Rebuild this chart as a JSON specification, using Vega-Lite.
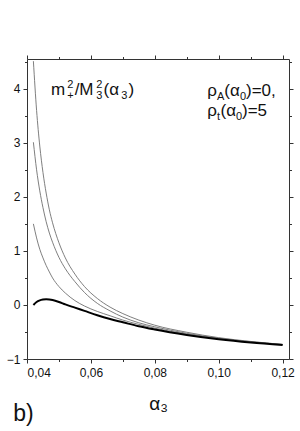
{
  "$schema": "https://vega.github.io/schema/vega-lite/v6.json",
  "width": 262,
  "height": 300,
  "autosize": "none",
  "padding": {"left": 27, "top": 59, "right": 11, "bottom": 72},
  "background": "white",
  "config": {
    "view": {"stroke": null},
    "font": "Liberation Sans",
    "axis": {"domainColor": "#333", "tickColor": "#333", "labelColor": "#111", "grid": false, "labelFont": "Liberation Sans", "labelFontSize": 12, "titleFont": "Liberation Sans", "titleFontWeight": "normal", "titleColor": "#111", "domainWidth": 1, "tickWidth": 1}
  },
  "datasets": {
    "curves": [
      {"s": "c1", "a": 0.042, "v": 4.51}, {"s": "c1", "a": 0.043, "v": 3.6}, {"s": "c1", "a": 0.044, "v": 2.94}, {"s": "c1", "a": 0.045, "v": 2.45}, {"s": "c1", "a": 0.046, "v": 2.07}, {"s": "c1", "a": 0.047, "v": 1.76}, {"s": "c1", "a": 0.048, "v": 1.52}, {"s": "c1", "a": 0.05, "v": 1.15}, {"s": "c1", "a": 0.052, "v": 0.87}, {"s": "c1", "a": 0.055, "v": 0.57}, {"s": "c1", "a": 0.058, "v": 0.34}, {"s": "c1", "a": 0.062, "v": 0.12}, {"s": "c1", "a": 0.066, "v": -0.04}, {"s": "c1", "a": 0.07, "v": -0.16}, {"s": "c1", "a": 0.075, "v": -0.28}, {"s": "c1", "a": 0.08, "v": -0.375}, {"s": "c1", "a": 0.09, "v": -0.505}, {"s": "c1", "a": 0.1, "v": -0.605}, {"s": "c1", "a": 0.11, "v": -0.675}, {"s": "c1", "a": 0.12, "v": -0.73},
      {"s": "c2", "a": 0.042, "v": 3.01}, {"s": "c2", "a": 0.043, "v": 2.5}, {"s": "c2", "a": 0.044, "v": 2.11}, {"s": "c2", "a": 0.045, "v": 1.8}, {"s": "c2", "a": 0.046, "v": 1.54}, {"s": "c2", "a": 0.047, "v": 1.33}, {"s": "c2", "a": 0.048, "v": 1.16}, {"s": "c2", "a": 0.05, "v": 0.88}, {"s": "c2", "a": 0.052, "v": 0.67}, {"s": "c2", "a": 0.055, "v": 0.43}, {"s": "c2", "a": 0.058, "v": 0.23}, {"s": "c2", "a": 0.062, "v": 0.03}, {"s": "c2", "a": 0.066, "v": -0.11}, {"s": "c2", "a": 0.07, "v": -0.225}, {"s": "c2", "a": 0.075, "v": -0.33}, {"s": "c2", "a": 0.08, "v": -0.405}, {"s": "c2", "a": 0.09, "v": -0.525}, {"s": "c2", "a": 0.1, "v": -0.615}, {"s": "c2", "a": 0.11, "v": -0.68}, {"s": "c2", "a": 0.12, "v": -0.73},
      {"s": "c3", "a": 0.042, "v": 1.5}, {"s": "c3", "a": 0.043, "v": 1.24}, {"s": "c3", "a": 0.044, "v": 1.03}, {"s": "c3", "a": 0.045, "v": 0.87}, {"s": "c3", "a": 0.046, "v": 0.73}, {"s": "c3", "a": 0.047, "v": 0.61}, {"s": "c3", "a": 0.048, "v": 0.5}, {"s": "c3", "a": 0.05, "v": 0.34}, {"s": "c3", "a": 0.052, "v": 0.22}, {"s": "c3", "a": 0.055, "v": 0.08}, {"s": "c3", "a": 0.058, "v": -0.02}, {"s": "c3", "a": 0.062, "v": -0.12}, {"s": "c3", "a": 0.066, "v": -0.2}, {"s": "c3", "a": 0.07, "v": -0.28}, {"s": "c3", "a": 0.075, "v": -0.36}, {"s": "c3", "a": 0.08, "v": -0.43}, {"s": "c3", "a": 0.09, "v": -0.54}, {"s": "c3", "a": 0.1, "v": -0.625}, {"s": "c3", "a": 0.11, "v": -0.688}, {"s": "c3", "a": 0.12, "v": -0.735},
      {"s": "k", "a": 0.042, "v": 0.0}, {"s": "k", "a": 0.043, "v": 0.055}, {"s": "k", "a": 0.044, "v": 0.085}, {"s": "k", "a": 0.045, "v": 0.1}, {"s": "k", "a": 0.046, "v": 0.105}, {"s": "k", "a": 0.047, "v": 0.1}, {"s": "k", "a": 0.048, "v": 0.09}, {"s": "k", "a": 0.05, "v": 0.055}, {"s": "k", "a": 0.052, "v": 0.01}, {"s": "k", "a": 0.055, "v": -0.05}, {"s": "k", "a": 0.058, "v": -0.11}, {"s": "k", "a": 0.062, "v": -0.19}, {"s": "k", "a": 0.066, "v": -0.26}, {"s": "k", "a": 0.07, "v": -0.32}, {"s": "k", "a": 0.075, "v": -0.395}, {"s": "k", "a": 0.08, "v": -0.455}, {"s": "k", "a": 0.09, "v": -0.555}, {"s": "k", "a": 0.1, "v": -0.635}, {"s": "k", "a": 0.11, "v": -0.695}, {"s": "k", "a": 0.12, "v": -0.74}
    ],
    "mainText": [
      {"a": 0.0475, "v": 3.889, "t": "m"},
      {"a": 0.054906, "v": 3.889, "t": "/M"},
      {"a": 0.063938, "v": 3.889, "t": "(α"},
      {"a": 0.07175, "v": 3.889, "t": ")"},
      {"a": 0.096438, "v": 3.857, "t": "ρ"},
      {"a": 0.10175, "v": 3.857, "t": "(α"},
      {"a": 0.108531, "v": 3.857, "t": ")=0,"},
      {"a": 0.096438, "v": 3.487, "t": "ρ"},
      {"a": 0.100563, "v": 3.487, "t": "(α"},
      {"a": 0.107281, "v": 3.487, "t": ")=5"}
    ],
    "smallText": [
      {"a": 0.052563, "v": 3.815, "t": "+"},
      {"a": 0.052563, "v": 4.0185, "t": "2"},
      {"a": 0.061656, "v": 3.815, "t": "3"},
      {"a": 0.061656, "v": 4.0185, "t": "2"},
      {"a": 0.069469, "v": 3.815, "t": "3"},
      {"a": 0.099469, "v": 3.783, "t": "A"},
      {"a": 0.106625, "v": 3.783, "t": "0"},
      {"a": 0.099469, "v": 3.413, "t": "t"},
      {"a": 0.105406, "v": 3.413, "t": "0"}
    ],
    "panel": [
      {"a": 0.03571, "v": -2.15, "t": "b)"}
    ]
  },
  "resolve": {"axis": {"x": "independent", "y": "independent"}},
  "layer": [
    {
      "data": {"name": "curves"},
      "transform": [{"filter": "datum.s != 'k'"}],
      "mark": {"type": "line", "color": "#707070", "strokeWidth": 0.9, "interpolate": "monotone", "clip": true},
      "encoding": {
        "x": {"field": "a", "type": "quantitative", "scale": {"domain": [0.04, 0.122], "nice": false, "zero": false},
              "axis": {"orient": "bottom", "values": [0.04, 0.06, 0.08, 0.1, 0.12], "tickSize": 4, "labelPadding": 4, "labelExpr": "replace(format(datum.value, '.2f'), '.', ',')", "title": "α₃", "titleFontSize": 19, "titlePadding": 16}},
        "y": {"field": "v", "type": "quantitative", "scale": {"domain": [-1, 4.55], "nice": false, "zero": false},
              "axis": {"orient": "left", "values": [-1, 0, 1, 2, 3, 4], "tickSize": 4, "labelPadding": 3, "title": null}},
        "detail": {"field": "s"}
      }
    },
    {
      "data": {"name": "curves"},
      "transform": [{"filter": "datum.s == 'k'"}],
      "mark": {"type": "line", "color": "#000", "strokeWidth": 2, "interpolate": "monotone", "clip": true},
      "encoding": {
        "x": {"field": "a", "type": "quantitative", "axis": null},
        "y": {"field": "v", "type": "quantitative", "axis": null}
      }
    },
    {
      "data": {"name": "curves"},
      "mark": {"type": "line", "opacity": 0},
      "encoding": {
        "x": {"field": "a", "type": "quantitative", "axis": {"orient": "bottom", "values": [0.05, 0.07, 0.09, 0.11], "tickSize": 2.5, "labels": false, "domain": false, "title": null}},
        "y": {"field": "v", "type": "quantitative", "axis": {"orient": "left", "values": [-0.5, 0.5, 1.5, 2.5, 3.5, 4.5], "tickSize": 2.5, "labels": false, "domain": false, "title": null}},
        "detail": {"field": "s"}
      }
    },
    {
      "data": {"name": "curves"},
      "mark": {"type": "line", "opacity": 0},
      "encoding": {
        "x": {"field": "a", "type": "quantitative", "axis": {"orient": "top", "values": [0.04, 0.06, 0.08, 0.1, 0.12], "tickSize": 4, "labels": false, "title": null}},
        "y": {"field": "v", "type": "quantitative", "axis": {"orient": "right", "values": [-1, 0, 1, 2, 3, 4], "tickSize": 4, "labels": false, "title": null}},
        "detail": {"field": "s"}
      }
    },
    {
      "data": {"name": "curves"},
      "mark": {"type": "line", "opacity": 0},
      "encoding": {
        "x": {"field": "a", "type": "quantitative", "axis": {"orient": "top", "values": [0.05, 0.07, 0.09, 0.11], "tickSize": 2.5, "labels": false, "domain": false, "title": null}},
        "y": {"field": "v", "type": "quantitative", "axis": {"orient": "right", "values": [-0.5, 0.5, 1.5, 2.5, 3.5, 4.5], "tickSize": 2.5, "labels": false, "domain": false, "title": null}},
        "detail": {"field": "s"}
      }
    },
    {
      "data": {"name": "mainText"},
      "mark": {"type": "text", "align": "left", "baseline": "alphabetic", "fontSize": 17, "color": "#111", "font": "Liberation Sans"},
      "encoding": {
        "x": {"field": "a", "type": "quantitative", "axis": null},
        "y": {"field": "v", "type": "quantitative", "axis": null},
        "text": {"field": "t"}
      }
    },
    {
      "data": {"name": "smallText"},
      "mark": {"type": "text", "align": "left", "baseline": "alphabetic", "fontSize": 11, "color": "#111", "font": "Liberation Sans"},
      "encoding": {
        "x": {"field": "a", "type": "quantitative", "axis": null},
        "y": {"field": "v", "type": "quantitative", "axis": null},
        "text": {"field": "t"}
      }
    },
    {
      "data": {"name": "panel"},
      "mark": {"type": "text", "align": "left", "baseline": "alphabetic", "fontSize": 23, "color": "#111", "font": "Liberation Sans"},
      "encoding": {
        "x": {"field": "a", "type": "quantitative", "axis": null},
        "y": {"field": "v", "type": "quantitative", "axis": null},
        "text": {"field": "t"}
      }
    }
  ]
}
